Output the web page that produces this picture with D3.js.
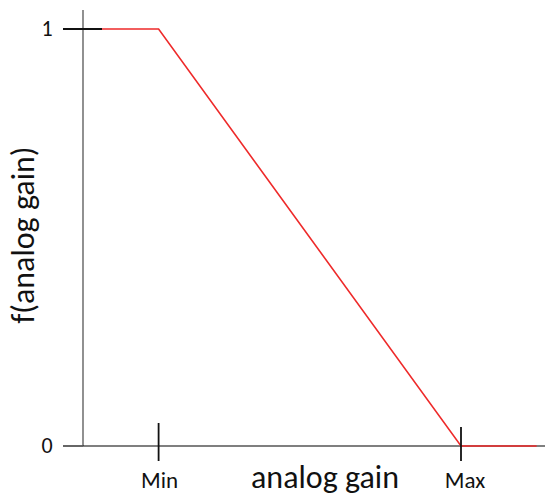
<!DOCTYPE html>
<html><head><meta charset="utf-8">
<script src="https://cdn.jsdelivr.net/npm/d3@7"></script>
<style>html,body{margin:0;padding:0;background:#fff;}svg{display:block;}</style>
</head><body>
<script>
const gainValues = [0, 1, 5, 6];
const fValues = [1, 1, 0, 0];
const xTickValues = [1, 5];
const xTickLabels = ["Min", "Max"];
const yTickValues = [0, 1];
const yTickLabels = ["0", "1"];
const xTitle = "analog gain";
const yTitle = "f(analog gain)";

const W = 545, H = 497;
const font = "Carlito, Calibri, Lato, 'Open Sans', sans-serif";
const svg = d3.select("body").append("svg").attr("width", W).attr("height", H);

const x = d3.scaleLinear().domain([0, 5]).range([83, 461]);
const y = d3.scaleLinear().domain([0, 1]).range([446, 29]);

// y axis line
svg.append("line").attr("x1", x(0)).attr("x2", x(0)).attr("y1", 10).attr("y2", y(0))
  .attr("stroke", "#555").attr("stroke-width", 1.3);
// x axis line
svg.append("line").attr("x1", x(0)).attr("x2", W).attr("y1", y(0)).attr("y2", y(0))
  .attr("stroke", "#000").attr("stroke-width", 1.2);

// data line
const line = d3.line().x((d, i) => x(gainValues[i])).y(d => y(d));
svg.append("path").datum(fValues).attr("d", line)
  .attr("fill", "none").attr("stroke", "#ee2a2a").attr("stroke-width", 1.6);

// y ticks
yTickValues.forEach((v, i) => {
  const len = v === 1 ? 39 : 20;
  svg.append("line").attr("x1", x(0) - 20).attr("x2", x(0) - 20 + len)
    .attr("y1", y(v)).attr("y2", y(v)).attr("stroke", v === 1 ? "#111" : "#555").attr("stroke-width", 1.8);
  svg.append("text").attr("x", 47).attr("y", y(v) + 7)
    .attr("text-anchor", "middle").attr("font-family", font).attr("font-size", 22)
    .attr("fill", "#111").text(yTickLabels[i]);
});

// x ticks
xTickValues.forEach((v, i) => {
  svg.append("line").attr("x1", x(v)).attr("x2", x(v))
    .attr("y1", v === 1 ? 423 : 427).attr("y2", 461)
    .attr("stroke", "#111").attr("stroke-width", 1.8);
  svg.append("text").attr("x", x(v) + (v === 1 ? 1 : 4)).attr("y", 488)
    .attr("text-anchor", "middle").attr("font-family", font).attr("font-size", 23)
    .attr("fill", "#111").text(xTickLabels[i]);
});

// titles
svg.append("text").attr("x", 325).attr("y", 488).attr("text-anchor", "middle")
  .attr("font-family", font).attr("font-size", 32).attr("fill", "#111").text(xTitle);
svg.append("text").attr("transform", "translate(34,235) rotate(-90)").attr("text-anchor", "middle")
  .attr("font-family", font).attr("font-size", 32).attr("fill", "#111").text(yTitle);
</script>
</body></html>
